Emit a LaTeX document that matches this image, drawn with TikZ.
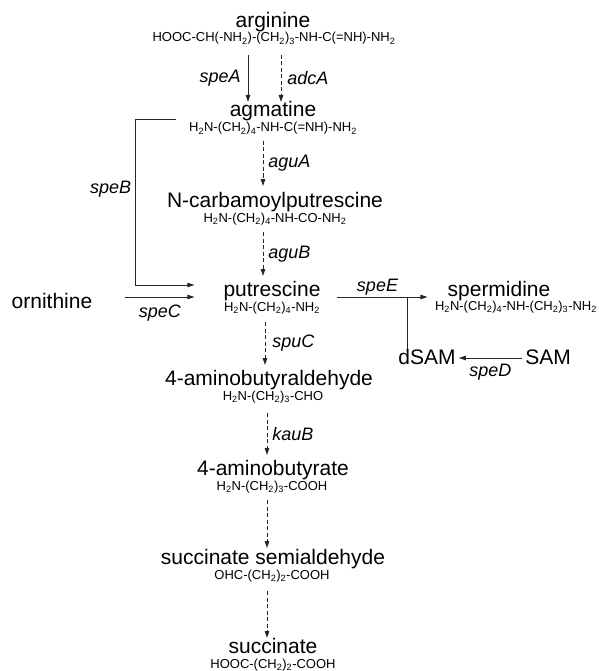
\documentclass[tikz,border=0pt]{standalone}
\usepackage{fontspec}
\setmainfont{Liberation Sans}
\usetikzlibrary{arrows.meta}
\newcommand{\sbs}[1]{\textsubscript{#1}}
\begin{document}
\begin{tikzpicture}[x=1pt,y=-1pt,
  title/.style={anchor=base,inner sep=0pt,font=\fontsize{21}{24}\selectfont},
  formula/.style={anchor=base,inner sep=0pt,font=\fontsize{13}{15}\selectfont},
  enz/.style={inner sep=0pt,font=\fontsize{18}{21}\selectfont\itshape},
  conn/.style={draw=black!85,line width=0.8pt},
  rxn/.style={conn,-{Triangle[length=7pt,width=4.5pt]}},
  drxn/.style={rxn,dash pattern=on 4pt off 2.5pt},
]
\useasboundingbox (0,0) rectangle (598,671);

% main column
\node[title] (tArg) at (273,28) {arginine};
\node[formula] (fArg) at (274,42) {HOOC-CH(-NH\sbs{2})-(CH\sbs{2})\sbs{3}-NH-C(=NH)-NH\sbs{2}};
\node[title] (tAgm) at (273,117) {agmatine};
\node[formula] (fAgm) at (273,132) {H\sbs{2}N-(CH\sbs{2})\sbs{4}-NH-C(=NH)-NH\sbs{2}};
\node[title] (tNcp) at (275,207) {N-carbamoylputrescine};
\node[formula] (fNcp) at (275,222) {H\sbs{2}N-(CH\sbs{2})\sbs{4}-NH-CO-NH\sbs{2}};
\node[title] (tPut) at (272,296) {putrescine};
\node[formula] (fPut) at (272,311) {H\sbs{2}N-(CH\sbs{2})\sbs{4}-NH\sbs{2}};
\node[title] (tAba) at (269,385) {4-aminobutyraldehyde};
\node[formula] (fAba) at (273,400) {H\sbs{2}N-(CH\sbs{2})\sbs{3}-CHO};
\node[title] (tGab) at (273,475) {4-aminobutyrate};
\node[formula] (fGab) at (272,490) {H\sbs{2}N-(CH\sbs{2})\sbs{3}-COOH};
\node[title] (tSsa) at (273,564) {succinate semialdehyde};
\node[formula] (fSsa) at (272,579) {OHC-(CH\sbs{2})\sbs{2}-COOH};
\node[title] (tSuc) at (273,653) {succinate};
\node[formula] (fSuc) at (273,668) {HOOC-(CH\sbs{2})\sbs{2}-COOH};

% side compounds
\node[title] (tOrn) at (52,308) {ornithine};
\node[title] (tSpd) at (499,296) {spermidine};
\node[formula] (fSpd) at (516,310) {H\sbs{2}N-(CH\sbs{2})\sbs{4}-NH-(CH\sbs{2})\sbs{3}-NH\sbs{2}};
\node[title] (tDsam) at (427,364) {dSAM};
\node[title] (tSam) at (548,364) {SAM};

% x positions of vertical arrows
\coordinate (xA) at (248,0);
\coordinate (xB) at (281,0);
\coordinate (x1) at (263,0);
\coordinate (x2) at (265,0);
\coordinate (x3) at (267,0);
\coordinate (xV) at (407,0);

% arginine -> agmatine
\draw[rxn] ([yshift=-13pt]fArg.base -| xA) -- ([yshift=15pt]tAgm.base -| xA)
  node[midway,left=7pt,enz] (lA) {speA};
\draw[drxn] ([yshift=-13pt]fArg.base -| xB) -- ([yshift=15pt]tAgm.base -| xB)
  node[midway,right=6pt,enz] (lB) {adcA};

% agmatine -> N-carbamoylputrescine
\draw[drxn] ([yshift=-9pt]fAgm.base -| x1) -- ([yshift=21pt]tNcp.base -| x1)
  node[midway,right=5pt,enz] (lC) {aguA};
% N-carbamoylputrescine -> putrescine
\draw[drxn] ([yshift=-10pt]fNcp.base -| x1) -- ([yshift=20pt]tPut.base -| x1)
  node[midway,right=5pt,enz] (lD) {aguB};
% putrescine -> 4-aminobutyraldehyde
\draw[drxn] ([yshift=-11pt]fPut.base -| x2) -- ([yshift=20pt]tAba.base -| x2)
  node[midway,right=7pt,enz] (lE) {spuC};
% 4-aminobutyraldehyde -> 4-aminobutyrate
\draw[drxn] ([yshift=-13pt]fAba.base -| x3) -- ([yshift=20pt]tGab.base -| x3)
  node[midway,right=5pt,enz] (lF) {kauB};
% 4-aminobutyrate -> succinate semialdehyde
\draw[drxn] ([yshift=-10pt]fGab.base -| x3) -- ([yshift=16pt]tSsa.base -| x3);
% succinate semialdehyde -> succinate
\draw[drxn] ([yshift=-12pt]fSsa.base -| x3) -- ([yshift=15pt]tSuc.base -| x3);

% speB: agmatine -> putrescine
\draw[rxn] ([xshift=-54pt,yshift=-2pt]tAgm.base west) -- ++(-40,0)
  |- ([xshift=-29pt,yshift=11pt]tPut.base west)
  node[pos=0.21,left=4pt,enz] (lG) {speB};

% speC: ornithine -> putrescine
\draw[rxn] ([xshift=33pt,yshift=11pt]tOrn.base east) -- ([xshift=-29pt,yshift=-1pt]tPut.base west)
  node[midway,below=8pt,enz] (lH) {speC};

% speE: putrescine -> spermidine
\draw[rxn] ([xshift=16pt,yshift=-1pt]tPut.base east) -- ([xshift=-20pt,yshift=-1pt]tSpd.base west)
  node[pos=0.45,above=1pt,enz] (lI) {speE};
\coordinate (eJ) at ([yshift=-1pt]tPut.base -| xV);
\draw[conn] (eJ) -- (eJ |- tDsam.north);

% speD: SAM -> dSAM
\draw[rxn] ([xshift=-3pt,yshift=6pt]tSam.base west) -- ([xshift=3pt,yshift=6pt]tDsam.base east)
  node[midway,below=6pt,enz] (lJ) {speD};
\end{tikzpicture}
\end{document}
